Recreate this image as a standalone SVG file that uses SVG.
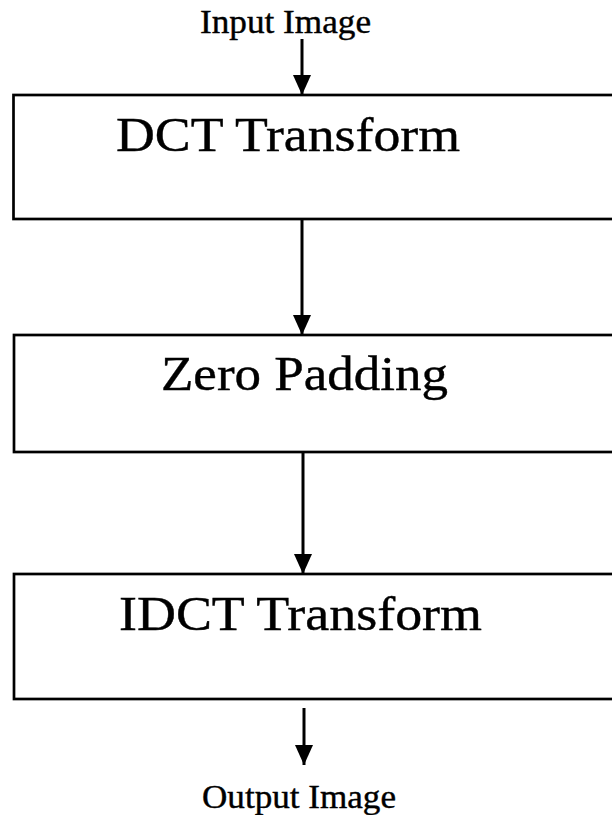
<svg xmlns="http://www.w3.org/2000/svg" width="612" height="815" viewBox="0 0 612 815">
<style>
.box{fill:#fff;stroke:#000;stroke-width:2.7}
.lbl{font-family:"Liberation Serif","Times New Roman",serif;fill:#000;stroke:#000;stroke-width:0.4}
.big{font-size:48px}
.small{font-size:33px}
.conn line{stroke:#000;stroke-width:3}
</style>
<defs>
<marker id="ah" viewBox="0 0 20 18" refX="20" refY="9" markerWidth="20" markerHeight="18" markerUnits="userSpaceOnUse" orient="auto">
<path d="M0,0 L20,9 L0,18 Z" fill="#000"/>
</marker>
</defs>
<rect width="612" height="815" fill="#fff"/>
<g id="input">
<text class="lbl small" x="200" y="33" textLength="171" lengthAdjust="spacingAndGlyphs">Input Image</text>
</g>
<g id="dct">
<rect class="box" x="13.5" y="95" width="620" height="124"/>
<text class="lbl big" x="116" y="151" textLength="344" lengthAdjust="spacingAndGlyphs">DCT Transform</text>
</g>
<g id="zeropad">
<rect class="box" x="14" y="335" width="620" height="117"/>
<text class="lbl big" x="161" y="390" textLength="287" lengthAdjust="spacingAndGlyphs">Zero Padding</text>
</g>
<g id="idct">
<rect class="box" x="14" y="574" width="620" height="125"/>
<text class="lbl big" x="119" y="630" textLength="363" lengthAdjust="spacingAndGlyphs">IDCT Transform</text>
</g>
<g id="output">
<text class="lbl small" x="202" y="808" textLength="194" lengthAdjust="spacingAndGlyphs">Output Image</text>
</g>
<g id="connectors" class="conn">
<line x1="302" y1="39" x2="302" y2="95" marker-end="url(#ah)"/>
<line x1="302" y1="219" x2="302" y2="335" marker-end="url(#ah)"/>
<line x1="303" y1="452" x2="303" y2="574" marker-end="url(#ah)"/>
<line x1="304" y1="708" x2="304" y2="765" marker-end="url(#ah)"/>
</g>
</svg>
